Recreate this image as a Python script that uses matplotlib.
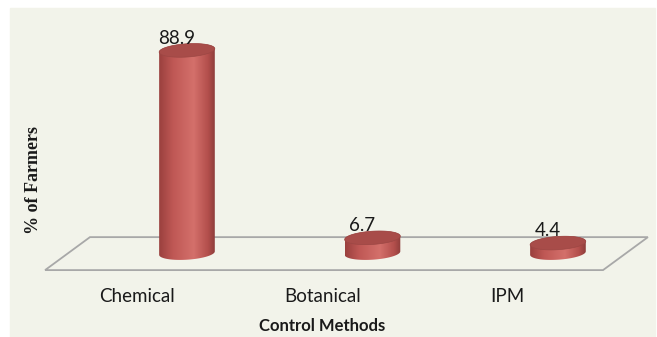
import numpy as np
import matplotlib.pyplot as plt
from matplotlib.patches import Polygon, Rectangle
from matplotlib.colors import LinearSegmentedColormap

methods = ['Chemical', 'Botanical', 'IPM']
farmers_pct = [88.9, 6.7, 4.4]

# shading across the cylinder face, dark rim -> highlight -> dark rim
body_cmap = LinearSegmentedColormap.from_list(
    'cyl', [(0.0, '#9a403e'), (0.25, '#bf5855'), (0.62, '#d4706b'),
            (0.88, '#b34f4c'), (1.0, '#8e3d3b')])
top_color = '#a84c49'
bg_color = '#f2f3ea'

half_w = 0.15      # cylinder radius (x units)
ell_h = 2.9        # ellipse half height (y units)
tilt = 3.0         # rise of the rims across the radius (y units)

fig = plt.figure(figsize=(6.57, 3.37), dpi=100)
fig.patch.set_facecolor('white')
fig.add_artist(Rectangle((10 / 657, 0), 645 / 657, 329 / 337,
                         transform=fig.transFigure, color=bg_color, zorder=0))

ax = fig.add_axes([0, 0, 1, 1])
ax.set_xlim(-1.008, 2.534)
ax.set_ylim(-36.8, 111.0)
ax.axis('off')
ax.patch.set_alpha(0)

# floor
floor = Polygon([(-0.765, -7.46), (2.243, -7.46), (2.485, 7.0), (-0.523, 7.0)],
                closed=True, facecolor=bg_color, edgecolor='#a8a8a8', lw=1.3, zorder=1)
ax.add_patch(floor)


def rim(xc, yc, t):
    x = xc + half_w * np.cos(t)
    y = yc + ell_h * np.sin(t) + tilt * (x - xc) / half_w * 0.25
    return x, y


for i, v in enumerate(farmers_pct):
    t_bot = np.linspace(np.pi, 2 * np.pi, 80)
    t_top = np.linspace(0, np.pi, 80)
    bx, by = rim(i, 0, t_bot)
    tx, ty = rim(i, v, t_top)
    body = Polygon(np.column_stack([np.r_[bx, tx], np.r_[by, ty]]), closed=True,
                   facecolor='none', edgecolor='none', zorder=2)
    ax.add_patch(body)
    grad = np.linspace(0, 1, 200).reshape(1, -1)
    im = ax.imshow(grad, cmap=body_cmap, aspect='auto', zorder=2,
                   extent=(i - half_w, i + half_w, -ell_h - 3, v + ell_h + 3))
    im.set_clip_path(body)

    t_all = np.linspace(0, 2 * np.pi, 160)
    ex, ey = rim(i, v, t_all)
    ax.add_patch(Polygon(np.column_stack([ex, ey]), closed=True,
                         facecolor=top_color, edgecolor='#9c4744', lw=0.5, zorder=3))

    ax.text(i - 0.055, v + 5.4, f'{v}', ha='center', va='center',
            fontsize=13.5, family='Lato', color='#1a1a1a', zorder=4)
    ax.text(i - 0.27, -18.9, methods[i], ha='center', va='center',
            fontsize=13.5, family='Lato', color='#1a1a1a')

ax.text(0.728, -31.8, 'Control Methods', ha='center', va='center',
        fontsize=12, family='Lato', fontweight='bold', color='#1a1a1a')
ax.text(-0.83, 32.0, '% of Farmers', ha='center', va='center', rotation=90,
        fontsize=13, family='Liberation Serif', fontweight='bold', color='#1a1a1a')

fig.savefig('out.png', dpi=100)
